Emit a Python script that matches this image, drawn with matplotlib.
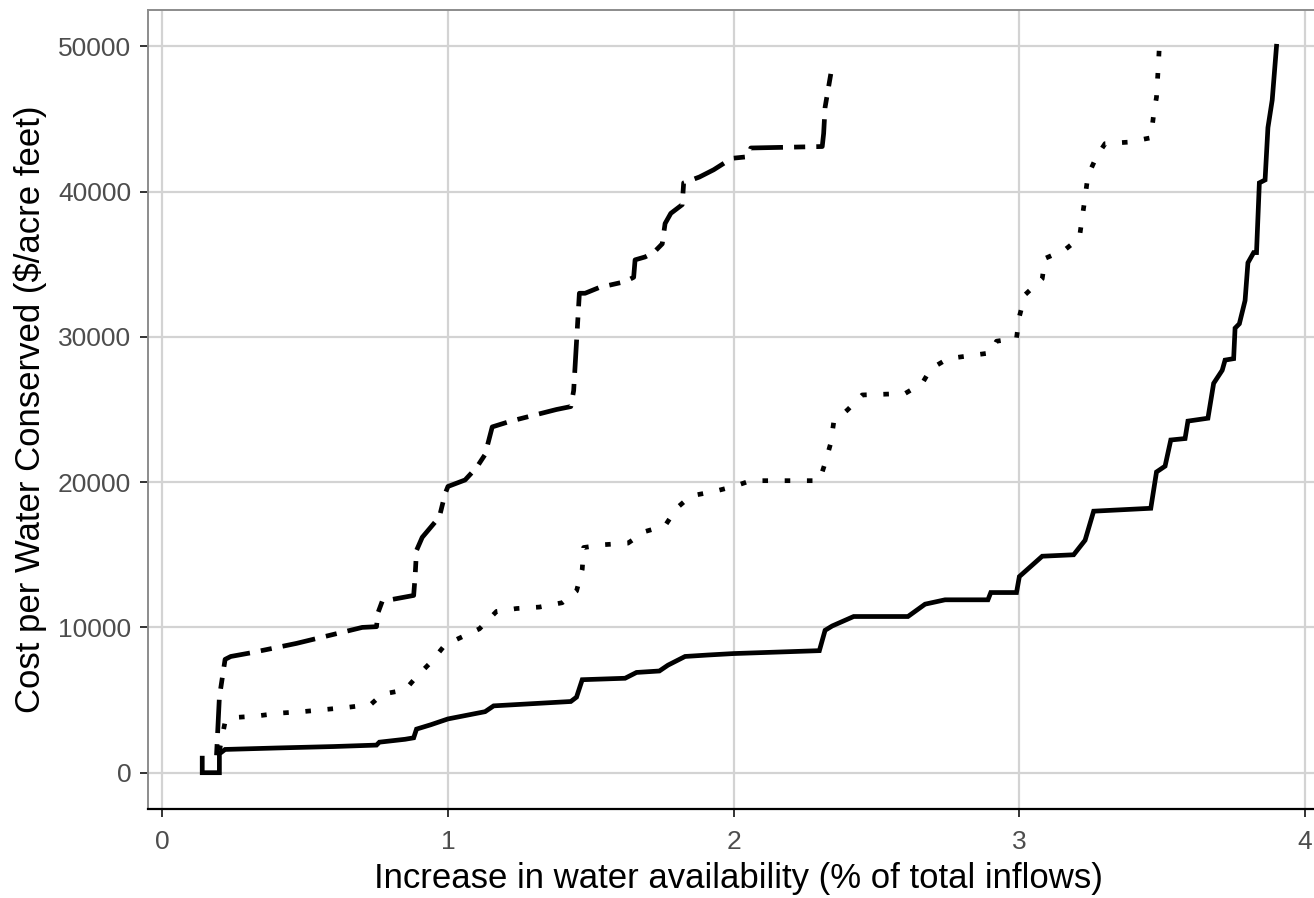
import matplotlib
matplotlib.use("Agg")
import matplotlib.pyplot as plt

# cost curves (x = % of total inflows, y = $/acre feet)
solid_x = [0.14, 0.14, 0.20, 0.20, 0.22, 0.40, 0.60, 0.75, 0.76, 0.85, 0.88, 0.89, 0.94, 1.00,
           1.13, 1.16, 1.43, 1.45, 1.47, 1.62, 1.66, 1.74, 1.77, 1.83, 1.91, 2.00, 2.30, 2.32,
           2.345, 2.42, 2.61, 2.67, 2.74, 2.89, 2.90, 2.99, 3.00, 3.08, 3.19, 3.23, 3.26, 3.46,
           3.48, 3.51, 3.53, 3.58, 3.59, 3.66, 3.68, 3.71, 3.72, 3.75, 3.755, 3.77, 3.79, 3.80,
           3.82, 3.83, 3.84, 3.86, 3.87, 3.885, 3.90]
solid_y = [1000, 0, 0, 1300, 1600, 1700, 1800, 1900, 2100, 2300, 2400, 3000, 3300, 3700,
           4200, 4600, 4900, 5200, 6400, 6500, 6900, 7000, 7400, 8000, 8100, 8200, 8400, 9800,
           10100, 10750, 10750, 11600, 11900, 11900, 12400, 12400, 13500, 14900, 15000, 16000, 18000, 18200,
           20700, 21100, 22900, 23000, 24200, 24400, 26800, 27700, 28400, 28500, 30600, 30900, 32500, 35100,
           35800, 35800, 40600, 40800, 44400, 46300, 50000]

dotted_x = [0.20, 0.22, 0.255, 0.33, 0.41, 0.49, 0.65, 0.73, 0.77, 0.85, 0.89, 0.94, 0.99, 1.055,
            1.11, 1.17, 1.24, 1.32, 1.40, 1.45, 1.47, 1.475, 1.55, 1.63, 1.69, 1.76, 1.80, 1.85,
            1.93, 2.00, 2.06, 2.30, 2.32, 2.34, 2.35, 2.40, 2.45, 2.60, 2.66, 2.69, 2.75, 2.90,
            2.92, 2.99, 3.00, 3.02, 3.08, 3.09, 3.16, 3.21, 3.22, 3.23, 3.24, 3.27, 3.30, 3.38,
            3.46, 3.47, 3.48, 3.485, 3.49]
dotted_y = [1500, 3500, 3800, 3900, 4100, 4200, 4500, 4700, 5400, 5700, 6600, 7600, 8800, 9400,
            9900, 11100, 11300, 11400, 11700, 12500, 14000, 15500, 15700, 15800, 16600, 17000, 18200, 19050,
            19350, 19700, 20100, 20100, 21300, 22700, 24100, 25000, 26000, 26100, 26800, 27800, 28500, 28900,
            29700, 29900, 31400, 32900, 34000, 35400, 36000, 36800, 38200, 39600, 41100, 42400, 43300, 43400,
            43700, 45300, 46500, 48200, 50000]

dashed_x = [0.19, 0.20, 0.22, 0.24, 0.31, 0.47, 0.70, 0.75, 0.755, 0.77, 0.88, 0.885, 0.89, 0.91,
            0.94, 0.97, 0.99, 1.00, 1.06, 1.10, 1.13, 1.155, 1.22, 1.38, 1.43, 1.44, 1.46, 1.48,
            1.53, 1.62, 1.65, 1.655, 1.69, 1.72, 1.75, 1.76, 1.78, 1.82, 1.825, 1.88, 1.93, 1.97,
            2.00, 2.05, 2.06, 2.31, 2.315, 2.32, 2.34]
dashed_y = [1200, 5200, 7800, 8000, 8250, 8900, 10000, 10050, 11000, 11800, 12200, 13500, 15300, 16200,
            16900, 17600, 19200, 19700, 20150, 21000, 21900, 23800, 24200, 25000, 25200, 26300, 33000, 33000,
            33400, 33800, 34100, 35300, 35500, 35800, 36400, 37800, 38500, 39100, 40600, 41000, 41500, 42000,
            42300, 42400, 43000, 43100, 44000, 45800, 48100]

x_ticks = [0, 1, 2, 3, 4]
y_ticks = [0, 10000, 20000, 30000, 40000, 50000]

plt.rcParams['font.family'] = ['Liberation Sans', 'DejaVu Sans']
plt.rcParams['lines.scale_dashes'] = False

fig = plt.figure(figsize=(13.14, 8.98), dpi=100)
ax = fig.add_axes([0.1126, 0.0991, 0.898, 0.8898])

ax.plot(solid_x, solid_y, color='black', lw=3.4, solid_joinstyle='miter')
ax.plot(dotted_x, dotted_y, color='black', lw=3.4, linestyle=(0, (4, 12)))
ax.plot(dashed_x, dashed_y, color='black', lw=3.4, linestyle=(0, (8, 8, 24, 8)))

ax.set_xlim(-0.05, 4.08)
ax.set_ylim(-2500, 52500)
ax.set_xticks(x_ticks)
ax.set_yticks(y_ticks)
ax.grid(True, color='#D3D3D3', lw=1.6)
ax.set_axisbelow(True)

for side in ['top', 'right', 'left']:
    ax.spines[side].set_color('#8C8C8C')
    ax.spines[side].set_linewidth(1.4)
ax.spines['bottom'].set_color('black')
ax.spines['bottom'].set_linewidth(1.6)

ax.tick_params(length=6, width=1.4, color='#333333', labelcolor='#4D4D4D',
               labelsize=19, pad=6)
ax.tick_params(axis='x', pad=9)
ax.set_xlabel("Increase in water availability (% of total inflows)", fontsize=25, labelpad=6)
ax.set_ylabel("Cost per Water Conserved ($/acre feet)", fontsize=25, labelpad=8)

fig.savefig("out.png", dpi=100)
